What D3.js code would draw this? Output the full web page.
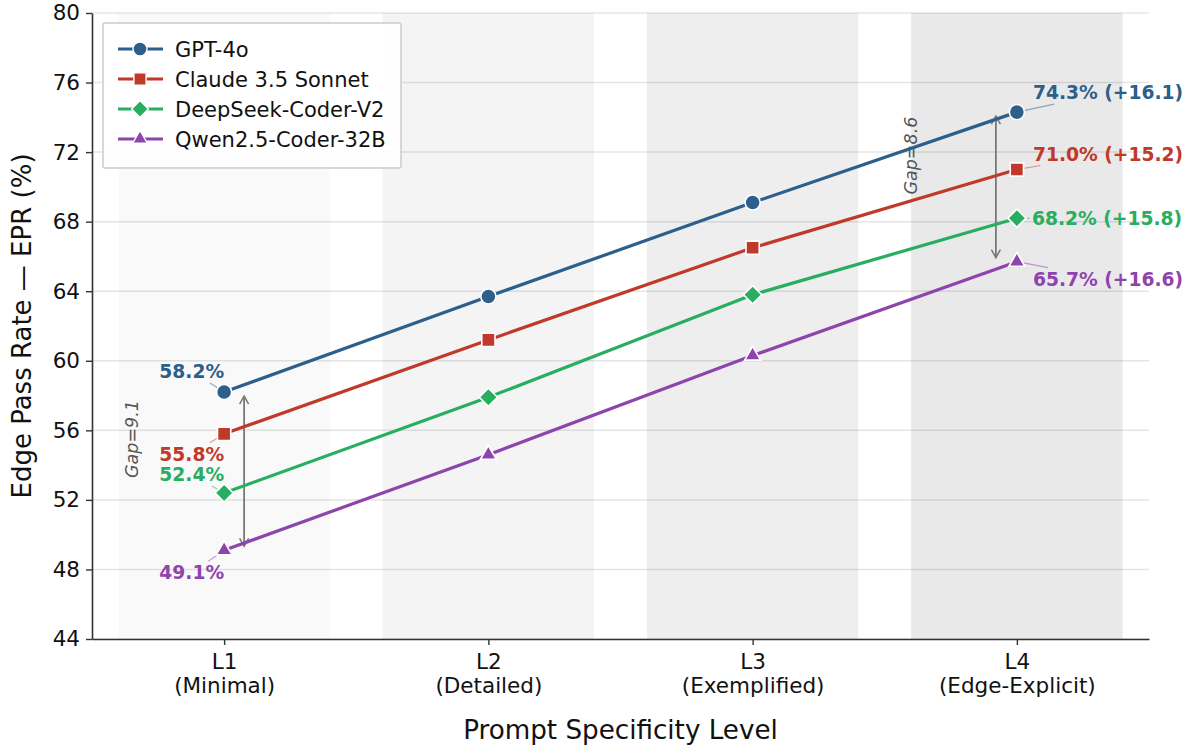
<!DOCTYPE html>
<html><head><meta charset="utf-8">
<script src="https://cdn.jsdelivr.net/npm/d3@7"></script>
<style>
html,body{margin:0;padding:0;background:#fff;}
text{font-family:"DejaVu Sans",sans-serif;}
</style></head>
<body>
<svg id="chart" width="1193" height="746"></svg>
<script>
const levels = ["L1", "L2", "L3", "L4"];
const levelNames = ["(Minimal)", "(Detailed)", "(Exemplified)", "(Edge-Explicit)"];
const seriesNames = ["GPT-4o", "Claude 3.5 Sonnet", "DeepSeek-Coder-V2", "Qwen2.5-Coder-32B"];
const gpt4o = [58.2, 63.7, 69.1, 74.3];
const claude = [55.8, 61.2, 66.5, 71.0];
const deepseek = [52.4, 57.9, 63.8, 68.2];
const qwen = [49.1, 54.6, 60.3, 65.7];
const gains = ["+16.1", "+15.2", "+15.8", "+16.6"];
const yTicks = [44, 48, 52, 56, 60, 64, 68, 72, 76, 80];
const gapLabels = ["Gap=9.1", "Gap=8.6"];

const colors = ["#2c5f8a", "#c0392b", "#27ae60", "#8e44ad"];
const bandFills = ["#f9f9f9", "#f4f4f4", "#eeeeee", "#e9e9e9"];

// rotated-square diamond like matplotlib 'D'
const diamondSym = {
  draw(ctx, size) {
    const r = Math.sqrt(size) / 2 * Math.SQRT2;
    ctx.moveTo(0, -r); ctx.lineTo(r, 0); ctx.lineTo(0, r); ctx.lineTo(-r, 0); ctx.closePath();
  }
};
const shapes = [d3.symbolCircle, d3.symbolSquare, diamondSym, d3.symbolTriangle];
const symSizes = [180, 175, 165, 110];

const series = [gpt4o, claude, deepseek, qwen];

const svg = d3.select("#chart");
const L = 92, R = 1149, T = 13, B = 639;

const x = d3.scaleLinear().domain([-0.5, 3.5]).range([L, R]);
const y = d3.scaleLinear().domain([44, 80]).range([B, T]);

// bands
svg.append("g").selectAll("rect").data(levels).join("rect")
  .attr("x", (d, i) => x(i - 0.4)).attr("width", x(0.4) - x(-0.4))
  .attr("y", y(80)).attr("height", y(44) - y(80))
  .attr("fill", (d, i) => bandFills[i]);

// grid
svg.append("g").selectAll("line").data(yTicks).join("line")
  .attr("x1", L).attr("x2", R).attr("y1", d => y(d)).attr("y2", d => y(d))
  .attr("stroke", "#000").attr("stroke-opacity", 0.1).attr("stroke-width", 1.5);

// axes
const yAxis = svg.append("g").attr("transform", `translate(${L},0)`)
  .call(d3.axisLeft(y).tickValues(yTicks).tickSize(6).tickPadding(6).tickSizeOuter(0));
yAxis.select(".domain").attr("stroke", "#333").attr("stroke-width", 1.6);
yAxis.selectAll(".tick line").attr("stroke", "#333").attr("stroke-width", 1.4);
yAxis.selectAll(".tick text").attr("font-size", 21.5).attr("fill", "#111");

const xAxis = svg.append("g").attr("transform", `translate(0,${B})`)
  .call(d3.axisBottom(x).tickValues([0, 1, 2, 3]).tickSize(6).tickSizeOuter(0).tickFormat(""));
xAxis.select(".domain").attr("stroke", "#333").attr("stroke-width", 1.6);
xAxis.selectAll(".tick line").attr("stroke", "#333").attr("stroke-width", 1.4);
xAxis.selectAll(".tick").each(function(d, i) {
  const g = d3.select(this);
  g.append("text").attr("y", 30).attr("text-anchor", "middle").attr("font-size", 21.5).attr("fill", "#111").text(levels[i]);
  g.append("text").attr("y", 54).attr("text-anchor", "middle").attr("font-size", 21.5).attr("fill", "#111").text(levelNames[i]);
});

svg.append("text").attr("x", (L + R) / 2).attr("y", 739).attr("text-anchor", "middle")
  .attr("font-size", 26.2).attr("fill", "#111").text("Prompt Specificity Level");
svg.append("text").attr("transform", `translate(31,${(T + B) / 2}) rotate(-90)`).attr("text-anchor", "middle")
  .attr("font-size", 26).attr("fill", "#111").text("Edge Pass Rate — EPR (%)");

// gap arrows
const defs = svg.append("defs");
defs.append("marker").attr("id", "ah").attr("viewBox", "-10 -6 12 12").attr("refX", 0).attr("refY", 0)
  .attr("markerWidth", 12).attr("markerHeight", 12).attr("markerUnits", "userSpaceOnUse").attr("orient", "auto-start-reverse")
  .append("path").attr("d", "M-8,-4.5 L0,0 L-8,4.5").attr("fill", "none").attr("stroke", "#777").attr("stroke-width", 1.5);

const gapIdx = [0, 3];
const gapLabelPos = [[-0.349, 55.5], [2.6, 71.8]];
gapIdx.forEach((gi, k) => {
  const ax = x(gi) + (k === 0 ? 20 : -21);
  svg.append("line").attr("x1", ax).attr("x2", ax)
    .attr("y1", y(gpt4o[gi]) + 4).attr("y2", y(qwen[gi]) - 4)
    .attr("stroke", "#777").attr("stroke-width", 1.8)
    .attr("marker-start", "url(#ah)").attr("marker-end", "url(#ah)");
  svg.append("text").attr("transform", `translate(${x(gapLabelPos[k][0]) + 6},${y(gapLabelPos[k][1])}) rotate(-90)`)
    .attr("text-anchor", "middle").attr("font-size", 17.5).attr("font-style", "italic").attr("fill", "#555")
    .text(gapLabels[k]);
});

// lines
const line = d3.line().x((d, i) => x(i)).y(d => y(d));
const leaderG = svg.append("g");
series.forEach((s, si) => {
  svg.append("path").datum(s).attr("d", line).attr("fill", "none")
    .attr("stroke", colors[si]).attr("stroke-width", 3.2);
});
series.forEach((s, si) => {
  svg.append("g").selectAll("path").data(s).join("path")
    .attr("transform", (d, i) => `translate(${x(i)},${y(d)})`)
    .attr("d", d3.symbol().type(shapes[si]).size(symSizes[si]))
    .attr("fill", colors[si]).attr("stroke", "#fff").attr("stroke-width", 1.6);
});

// data labels
const leftOff = [[0, -14], [0, 27], [0, -12], [0, 29]];
const rightOff = [[16, -13], [16, -9], [15, 7], [16, 24]];
function leader(txt, px, py, si) {
  const bb = txt.node().getBBox();
  const cx = bb.x + bb.width / 2, cy = bb.y + bb.height / 2;
  const dx = px - cx, dy = py - cy;
  const hw = bb.width / 2 + 2, hh = bb.height / 2 + 1;
  const t = Math.min(Math.abs(dx) > 0 ? hw / Math.abs(dx) : 1e9, Math.abs(dy) > 0 ? hh / Math.abs(dy) : 1e9);
  if (t >= 1) return;
  leaderG.append("line").attr("x1", cx + dx * t).attr("y1", cy + dy * t).attr("x2", px).attr("y2", py)
    .attr("stroke", colors[si]).attr("stroke-opacity", 0.5).attr("stroke-width", 1.2);
}
series.forEach((s, si) => {
  const px = x(0), py = y(s[0]);
  const t1 = svg.append("text").attr("x", px + leftOff[si][0]).attr("y", py + leftOff[si][1])
    .attr("text-anchor", "end").attr("font-size", 18.7).attr("font-weight", "bold").attr("fill", colors[si])
    .text(s[0].toFixed(1) + "%");
  leader(t1, px, py, si);
  const qx = x(3), qy = y(s[3]);
  const t2 = svg.append("text").attr("x", qx + rightOff[si][0]).attr("y", qy + rightOff[si][1])
    .attr("text-anchor", "start").attr("font-size", 18.7).attr("font-weight", "bold").attr("fill", colors[si])
    .text(`${s[3].toFixed(1)}% (${gains[si]})`);
  leader(t2, qx, qy, si);
});

// legend
const lg = svg.append("g");
lg.append("rect").attr("x", 103).attr("y", 23).attr("width", 298).attr("height", 145).attr("rx", 2)
  .attr("fill", "#fff").attr("fill-opacity", 0.9).attr("stroke", "#ccc").attr("stroke-width", 1.5);
seriesNames.forEach((n, si) => {
  const ry = 49 + si * 30;
  lg.append("line").attr("x1", 118).attr("x2", 163).attr("y1", ry).attr("y2", ry)
    .attr("stroke", colors[si]).attr("stroke-width", 3.2);
  lg.append("path").attr("transform", `translate(140,${ry})`)
    .attr("d", d3.symbol().type(shapes[si]).size(symSizes[si] * 0.85))
    .attr("fill", colors[si]).attr("stroke", "#fff").attr("stroke-width", 1.4);
  lg.append("text").attr("x", 175).attr("y", ry + 7.5).attr("font-size", 21).attr("fill", "#111").text(n);
});
</script>
</body></html>
